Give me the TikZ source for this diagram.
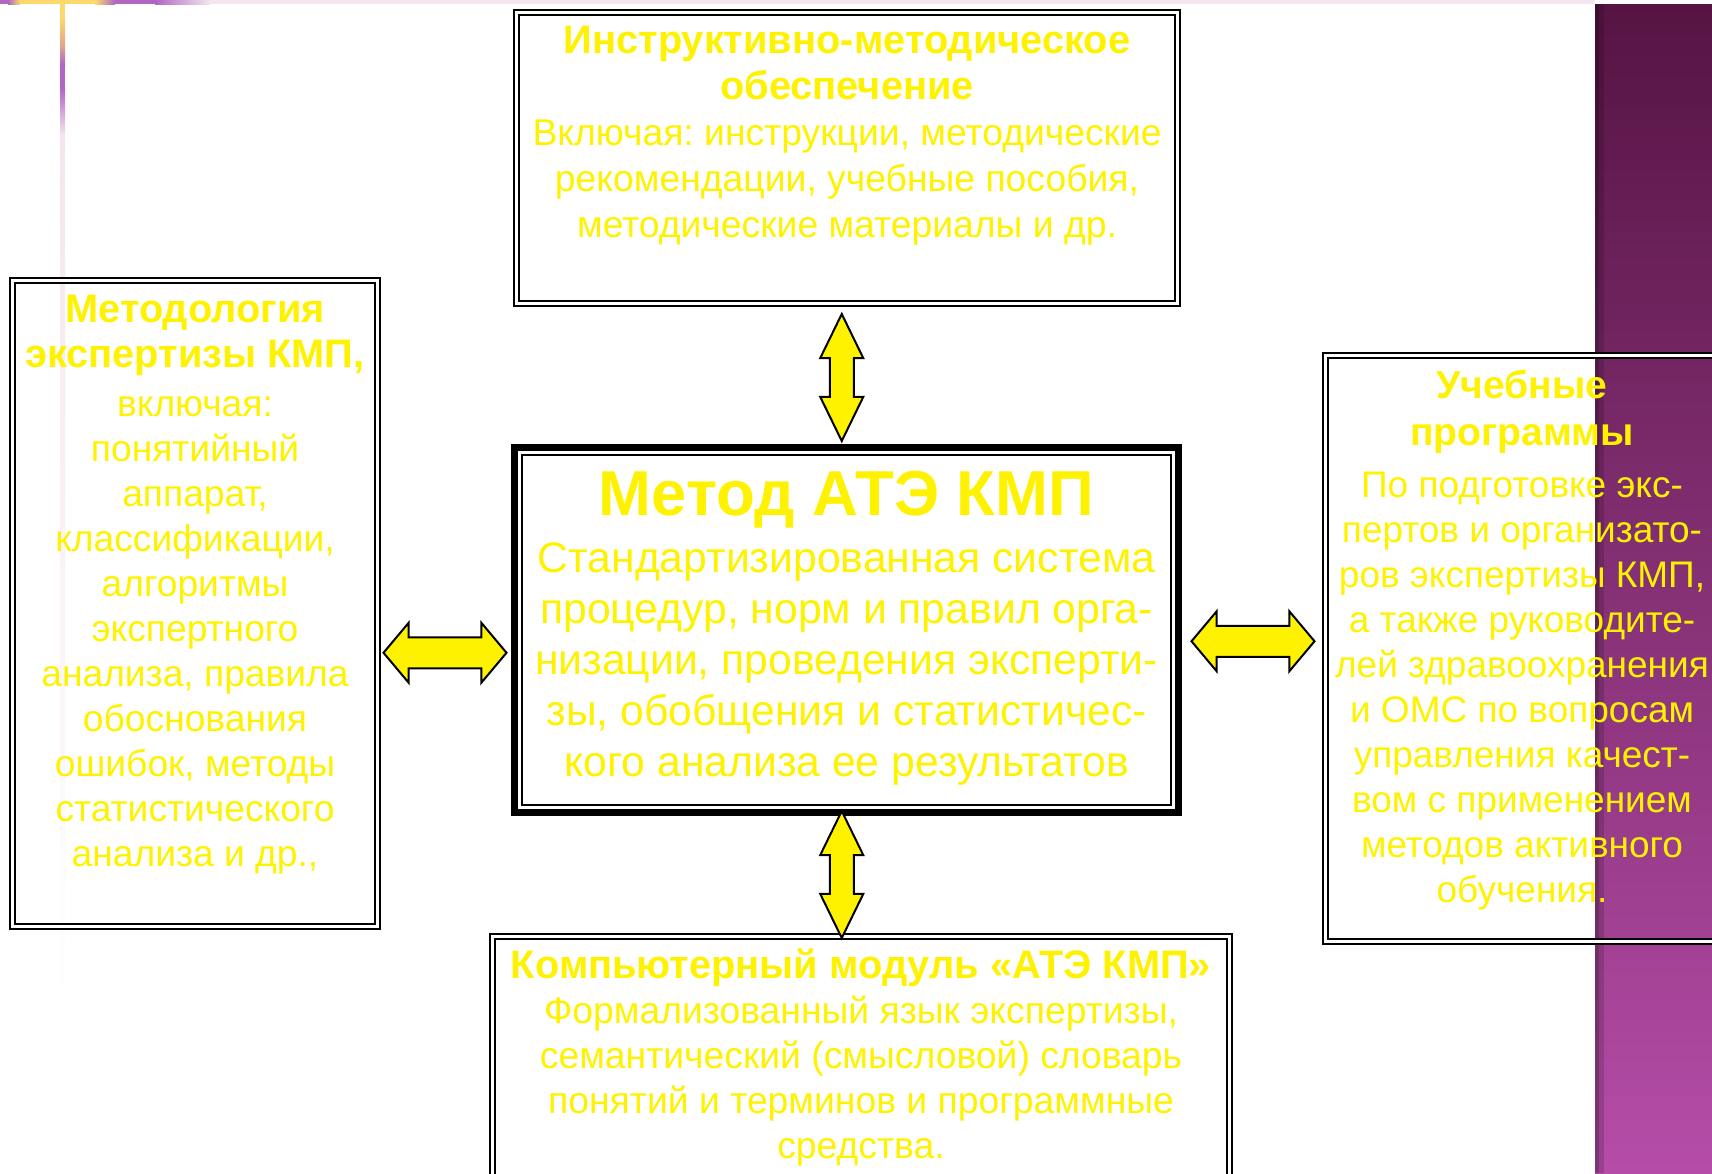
\documentclass[tikz,border=0pt]{standalone}
\usepackage{fontspec}
\setmainfont{Liberation Sans}
\usetikzlibrary{shapes.arrows,positioning,calc}
\definecolor{stripdark}{HTML}{561443}
\definecolor{stripmid}{HTML}{7A2A6C}
\definecolor{striplight}{HTML}{B54DA8}
\definecolor{lineyellow}{HTML}{FCD96C}
\definecolor{lineorange}{HTML}{E4A48E}
\definecolor{linepurple}{HTML}{B066C2}
\definecolor{linepink}{HTML}{F4E6EE}
\frenchspacing

\tikzset{
  box/.style={draw=black, double=white, line width=2pt, double distance=3pt,
              inner sep=0pt, outer sep=0pt},
  mainbox/.style={draw=black, line width=7pt, inner sep=0pt, outer sep=0pt},
  boxtext/.style={text=yellow, align=center, inner sep=0pt,
                  font=\fontsize{37.3}{46}\selectfont},
  harrow/.style={double arrow, draw=black, fill=yellow, line width=2pt,
                 inner xsep=0pt, inner ysep=14.5pt, minimum height=123pt,
                 double arrow head extend=14.5pt, double arrow tip angle=100},
  varrow/.style={double arrow, draw=black, fill=yellow, line width=2pt,
                 inner xsep=0pt, inner ysep=11pt, minimum height=127pt,
                 double arrow head extend=9.5pt, double arrow tip angle=52,
                 rotate=90},
}
\newcommand\headfont{\fontsize{39.8}{46}\selectfont\bfseries}

\begin{document}
\begin{tikzpicture}[x=1pt, y=-1pt]
  \useasboundingbox (0,0) rectangle (1712,1173);
  \clip (0,0) rectangle (1712,1173);
  % slide decoration
  \shade[top color=stripdark, middle color=stripmid, bottom color=striplight]
    (1595,4) rectangle (1712,1173);
  \fill[black, opacity=.3] (1595,4) rectangle (1599,1173);
  \fill[black, opacity=.15] (1599,4) rectangle (1604,1173);
  \fill[linepurple] (0,0) rectangle (8,4);
  \shade[left color=linepurple, right color=lineyellow] (8,0) rectangle (20,4);
  \fill[lineyellow] (20,0) rectangle (95,4);
  \shade[left color=lineyellow, right color=linepurple] (95,0) rectangle (115,4);
  \fill[linepurple] (115,0) rectangle (155,4);
  \shade[left color=linepurple, right color=linepink] (155,0) rectangle (210,4);
  \fill[linepink] (210,0) rectangle (1595,4);
  \fill[lineyellow] (60,0) rectangle (65,18);
  \shade[top color=lineyellow, bottom color=lineorange] (60,18) rectangle (65,45);
  \shade[top color=lineorange, bottom color=linepurple] (60,45) rectangle (65,65);
  \fill[linepurple] (60,65) rectangle (65,88);
  \shade[top color=linepurple, bottom color=linepink] (60,88) rectangle (65,135);
  \shade[top color=linepink, bottom color=white] (60,135) rectangle (65,1000);

  % boxes
  \node[box, minimum width=661pt, minimum height=291pt] (instr) at (847,158) {};
  \node[box, minimum width=365pt, minimum height=646pt] (methodology) at (195,603.5) {};
  \node[box, minimum width=393pt, minimum height=586pt] (curricula) at (1522,648.5) {};
  \node[mainbox, minimum width=664pt, minimum height=365pt] (ate) at (846.5,630) {};
  \draw[line width=2pt] ([shift={(7.5,7.5)}]ate.north west)
    rectangle ([shift={(-7.5,-7.5)}]ate.south east);
  \node[box, minimum width=737pt, minimum height=300pt] (module) at (861,1086.5) {};

  % texts
  \node[boxtext, below=13pt of instr.north] (instrtext)
    {{\headfont Инструктивно-методическое}\\{\headfont обеспечение}\\
     Включая: инструкции, методические\\рекомендации, учебные пособия,\\
     методические материалы и др.};
  \node[boxtext, font=\fontsize{37.2}{45}\selectfont, below=14pt of methodology.north] (methodologytext)
    {{\headfont Методология}\\{\headfont экспертизы КМП,}\\[4pt]включая:\\понятийный\\аппарат,\\
     классификации,\\алгоритмы\\экспертного\\анализа, правила\\обоснования\\
     ошибок, методы\\статистического\\анализа и др.,};
  \node[boxtext, font=\fontsize{37}{45}\selectfont, below=14.5pt of curricula.north] (curriculatext)
    {{\fontsize{39}{47}\selectfont\bfseries Учебные}\\[2pt]{\fontsize{39}{47}\selectfont\bfseries программы}\\[7pt]
     По подготовке экс-\\пертов и организато-\\
     ров экспертизы КМП,\\а также руководите-\\лей здравоохранения\\и ОМС по вопросам\\
     управления качест-\\вом с применением\\методов активного\\обучения.};
  \node[boxtext, font=\fontsize{42.7}{51}\selectfont, below=23pt of ate.north] (atetext)
    {{\fontsize{63.5}{70}\selectfont\bfseries Метод АТЭ КМП}\\[6pt]
     Стандартизированная система\\процедур, норм и правил орга-\\
     низации, проведения эксперти-\\зы, обобщения и статистичес-\\
     кого анализа ее результатов};
  \node[boxtext, font=\fontsize{37.3}{45}\selectfont, below=12.5pt of module.north] (moduletext)
    {{\headfont Компьютерный модуль «АТЭ КМП»}\\Формализованный язык экспертизы,\\
     семантический (смысловой) словарь\\понятий и терминов и программные\\средства.};

  % links
  \node[varrow] (linktop) at ($(instr.south)!.5!(ate.north)+(-5,2)$) {};
  \node[varrow] (linkbottom) at ($(ate.south)!.5!(module.north)+(-12,0)$) {};
  \node[harrow] (linkleft) at ($(methodology.east)!.5!(ate.west)+(-1,36)$) {};
  \node[harrow] (linkright) at ($(ate.east)!.5!(curricula.west)+(1,2)$) {};
\end{tikzpicture}
\end{document}
